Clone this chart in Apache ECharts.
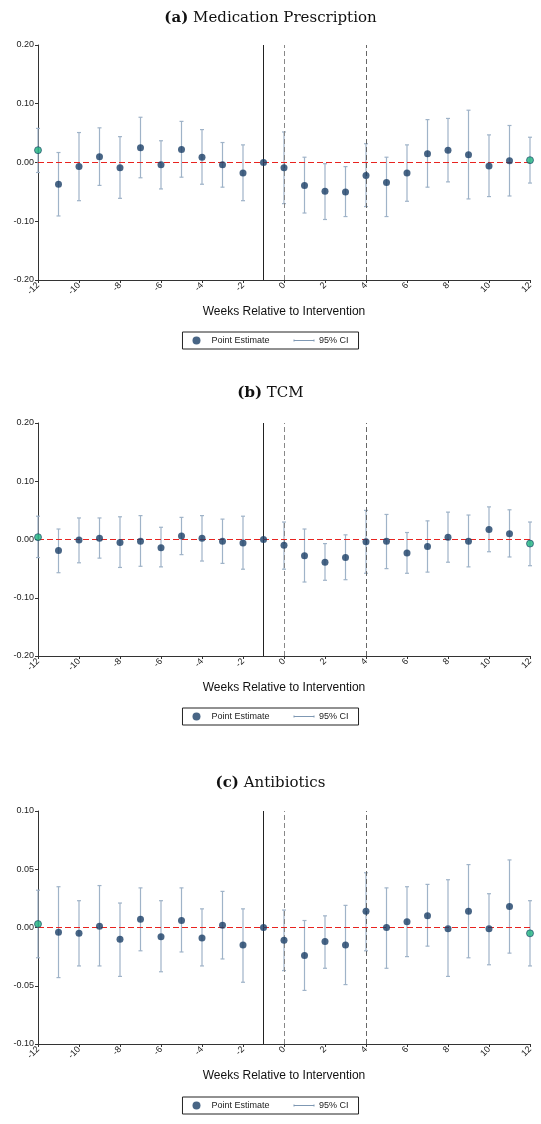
<!DOCTYPE html>
<html>
<head>
<meta charset="utf-8">
<script src="https://cdn.jsdelivr.net/npm/echarts@6/dist/echarts.min.js"></script>
<style>html,body{margin:0;padding:0;background:#fff}#main{width:541px;height:1124px}</style>
</head>
<body>
<div id="main"></div>
<script>
// weeks relative to intervention
const weeks = [-12,-11,-10,-9,-8,-7,-6,-5,-4,-3,-2,-1,0,1,2,3,4,5,6,7,8,9,10,11,12];

// (a) Medication Prescription
const estA = [0.021,-0.037,-0.007,0.010,-0.009,0.025,-0.004,0.022,0.009,-0.004,-0.018,0,-0.009,-0.039,-0.049,-0.050,-0.022,-0.034,-0.018,0.015,0.021,0.013,-0.006,0.003,0.004];
const hiA  = [0.058,0.017,0.051,0.059,0.044,0.077,0.037,0.070,0.056,0.034,0.030,null,0.052,0.009,-0.002,-0.007,0.032,0.009,0.030,0.073,0.075,0.089,0.047,0.063,0.043];
const loA  = [-0.017,-0.091,-0.065,-0.039,-0.061,-0.026,-0.045,-0.025,-0.037,-0.042,-0.065,null,-0.070,-0.086,-0.097,-0.092,-0.075,-0.092,-0.066,-0.042,-0.033,-0.062,-0.058,-0.057,-0.035];

// (b) TCM
const estB = [0.004,-0.019,-0.001,0.002,-0.005,-0.003,-0.014,0.006,0.002,-0.003,-0.006,0,-0.010,-0.028,-0.039,-0.031,-0.004,-0.003,-0.023,-0.012,0.004,-0.003,0.017,0.010,-0.007];
const hiB  = [0.040,0.018,0.037,0.037,0.039,0.041,0.021,0.038,0.041,0.035,0.040,null,0.030,0.018,-0.007,0.008,0.050,0.043,0.012,0.032,0.047,0.042,0.056,0.051,0.030];
const loB  = [-0.031,-0.057,-0.040,-0.032,-0.048,-0.046,-0.047,-0.026,-0.037,-0.041,-0.051,null,-0.051,-0.073,-0.070,-0.069,-0.058,-0.050,-0.058,-0.056,-0.039,-0.047,-0.021,-0.030,-0.045];

// (c) Antibiotics
const estC = [0.003,-0.004,-0.005,0.001,-0.010,0.007,-0.008,0.006,-0.009,0.002,-0.015,0,-0.011,-0.024,-0.012,-0.015,0.014,0.000,0.005,0.010,-0.001,0.014,-0.001,0.018,-0.005];
const hiC  = [0.032,0.035,0.023,0.036,0.021,0.034,0.023,0.034,0.016,0.031,0.016,null,0.015,0.006,0.010,0.019,0.047,0.034,0.035,0.037,0.041,0.054,0.029,0.058,0.023];
const loC  = [-0.026,-0.043,-0.033,-0.033,-0.042,-0.020,-0.038,-0.021,-0.033,-0.027,-0.047,null,-0.037,-0.054,-0.035,-0.049,-0.020,-0.035,-0.025,-0.016,-0.042,-0.026,-0.032,-0.022,-0.033];

const titles = ['Medication Prescription','TCM','Antibiotics'];
const letters = ['(a)','(b)','(c)'];
const panels = [
    {est: estA, hi: hiA, lo: loA, lim: 0.2, step: 0.1, top: 45, h: 235, titleY: 6, legY: 332},
    {est: estB, hi: hiB, lo: loB, lim: 0.2, step: 0.1, top: 423, h: 233, titleY: 381, legY: 708},
    {est: estC, hi: hiC, lo: loC, lim: 0.1, step: 0.05, top: 811, h: 233, titleY: 771, legY: 1097}
];

const NAVY = '#1a3f66', CI = '#9fb3c8', GREEN = '#1db37e';
const font = 'Liberation Sans, Arial, sans-serif';

var myChart = echarts.init(document.getElementById('main'));
let grid = [], xAxis = [], yAxis = [], series = [], legend = [], title = [];

panels.forEach((p, i) => {
    grid.push({left: 38, right: 11, top: p.top, height: p.h});
    xAxis.push({
        type: 'value', gridIndex: i, min: -12, max: 12, interval: 2,
        name: 'Weeks Relative to Intervention', nameLocation: 'middle', nameGap: 26,
        nameTextStyle: {fontFamily: font, fontSize: 12, color: '#111'},
        splitLine: {show: false},
        axisLine: {onZero: false, lineStyle: {color: '#333'}},
        axisTick: {length: 3, lineStyle: {color: '#333'}},
        axisLabel: {rotate: 45, fontSize: 9, fontFamily: font, color: '#222', margin: 4}
    });
    yAxis.push({
        type: 'value', gridIndex: i, min: -p.lim, max: p.lim, interval: p.step,
        splitLine: {show: false},
        axisLine: {show: true, onZero: false, lineStyle: {color: '#333'}},
        axisTick: {show: true, length: 3, lineStyle: {color: '#333'}},
        axisLabel: {fontSize: 9, fontFamily: font, color: '#222', margin: 4,
                    formatter: v => v.toFixed(2)}
    });
    // CI bars
    const ciData = [];
    weeks.forEach((w, k) => { if (p.hi[k] !== null) ciData.push([w, p.lo[k], p.hi[k]]); });
    series.push({
        name: '95% CI', type: 'custom', xAxisIndex: i, yAxisIndex: i, data: ciData,
        itemStyle: {color: CI}, z: 2,
        renderItem: (params, api) => {
            const a = api.coord([api.value(0), api.value(1)]);
            const b = api.coord([api.value(0), api.value(2)]);
            const st = {stroke: CI, lineWidth: 1.2};
            return {type: 'group', children: [
                {type: 'line', shape: {x1: a[0], y1: a[1], x2: b[0], y2: b[1]}, style: st},
                {type: 'line', shape: {x1: a[0]-2, y1: a[1], x2: a[0]+2, y2: a[1]}, style: st},
                {type: 'line', shape: {x1: b[0]-2, y1: b[1], x2: b[0]+2, y2: b[1]}, style: st}
            ]};
        }
    });
    // reference lines
    series.push({
        type: 'line', xAxisIndex: i, yAxisIndex: i, data: [], silent: true,
        markLine: {symbol: 'none', silent: true, label: {show: false}, data: [
            {xAxis: -1, lineStyle: {color: '#222', type: 'solid', width: 1}},
            {xAxis: 0, lineStyle: {color: '#888', type: [5, 3], width: 1}},
            {xAxis: 4, lineStyle: {color: '#666', type: [5, 3], width: 1}},
            {yAxis: 0, lineStyle: {color: '#e8231f', type: [6, 3], width: 1.2}}
        ]}
    });
    // point estimates
    series.push({
        name: 'Point Estimate', type: 'scatter', xAxisIndex: i, yAxisIndex: i, z: 5,
        symbolSize: 7,
        data: weeks.map((w, k) => {
            const edge = (w === -12 || w === 12);
            return {value: [w, p.est[k]], itemStyle: edge ? {color: GREEN, borderColor: '#1a3f66', borderWidth: 0.8} : {color: NAVY}};
        }),
        itemStyle: {color: NAVY}
    });
    legend.push({
        top: p.legY, left: 'center', orient: 'horizontal', itemGap: 22,
        borderColor: '#222', borderWidth: 1, borderRadius: 0, padding: [4, 10],
        itemWidth: 20, itemHeight: 8,
        textStyle: {fontFamily: font, fontSize: 9, color: '#222'},
        data: [
            {name: 'Point Estimate', icon: 'circle', itemStyle: {color: NAVY}},
            {name: '95% CI', icon: 'path://M0,0L0,4M0,2L40,2M40,0L40,4', itemStyle: {color: 'none', borderColor: '#7f98b3', borderWidth: 1}}
        ],
        selectedMode: false
    });
    title.push({
        text: '{b|' + letters[i] + '} ' + titles[i], left: 'center', top: p.titleY,
        textStyle: {fontFamily: 'DejaVu Serif, serif', fontSize: 15, fontWeight: 'normal', color: '#111',
                    rich: {b: {fontFamily: 'DejaVu Serif, serif', fontSize: 15, fontWeight: 'bold'}}}
    });
});

myChart.setOption({animation: false, title, grid, xAxis, yAxis, series, legend});
</script>
</body>
</html>
